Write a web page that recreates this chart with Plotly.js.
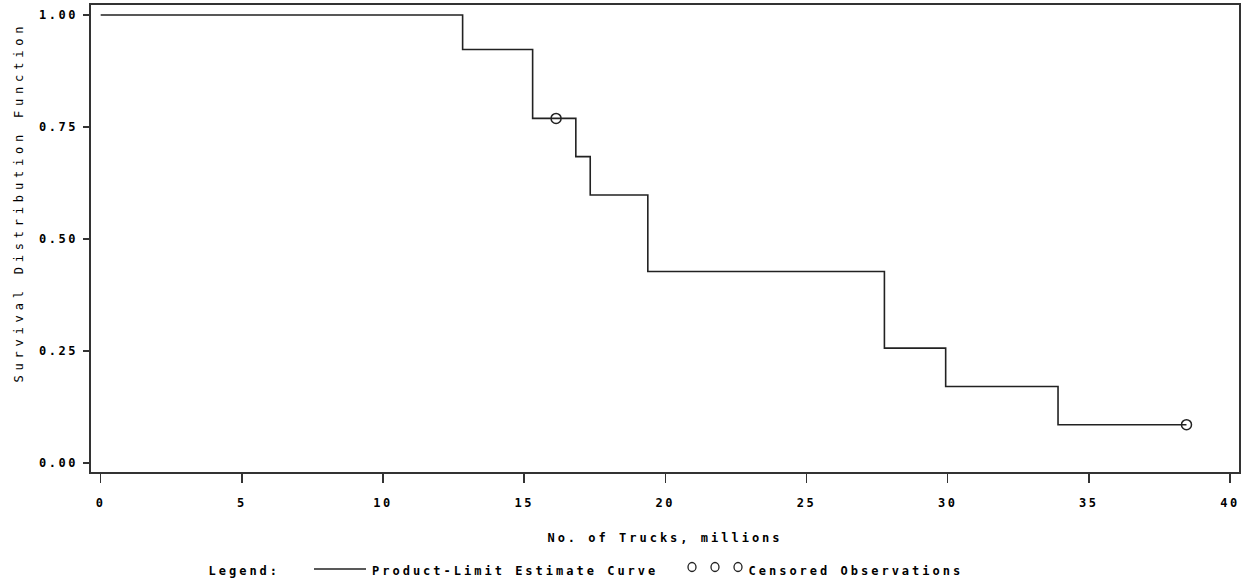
<!DOCTYPE html>
<html>
<head>
<meta charset="utf-8">
<script src="https://cdn.plot.ly/plotly-3.0.1.min.js"></script>
<style>
  html, body { margin: 0; padding: 0; background: #fff; }
  #chart { width: 1252px; height: 586px; }
  .xtick text, .ytick text { letter-spacing: 2.5px; }
  .g-xtitle text { letter-spacing: 3px; }
  g.annotation[data-index="0"] text { letter-spacing: 4.8px; }
  g.annotation[data-index="1"] text,
  g.annotation[data-index="2"] text,
  g.annotation[data-index="3"] text { letter-spacing: 3px; }
</style>
</head>
<body>
<div id="chart"></div>
<script>
// Kaplan-Meier product-limit estimate (step function)
const times = [0, 12.82, 15.30, 16.83, 17.34, 19.38, 27.76, 29.93, 33.91, 38.46];
const survival = [1.0, 0.9231, 0.7692, 0.6838, 0.5983, 0.4274, 0.2564, 0.1709, 0.0855, 0.0855];
// Censored observations
const censoredTimes = [16.13, 38.46];
const censoredSurvival = [0.7692, 0.0855];
// Axis ticks
const xTickVals = [0, 5, 10, 15, 20, 25, 30, 35, 40];
const yTickVals = [0, 0.25, 0.5, 0.75, 1.0];
const yTickText = ['0.00', '0.25', '0.50', '0.75', '1.00'];

const ink = '#222';
const monoBold = {family: 'DejaVu Sans Mono', size: 12, color: '#000', weight: 'bold'};

// plot area in pixels: left 91, right 1239, top 5, bottom 472
const L = 91, R = 1239, T = 5, B = 472;
const px = v => (v - L) / (R - L);
const py = v => (B - v) / (B - T);

const traces = [
  {
    x: times, y: survival, type: 'scatter', mode: 'lines',
    line: {shape: 'hv', color: ink, width: 1.6},
    showlegend: false, hoverinfo: 'x+y'
  },
  {
    x: censoredTimes, y: censoredSurvival, type: 'scatter', mode: 'markers',
    marker: {symbol: 'circle-open', size: 10, color: ink, line: {width: 1.5, color: ink}},
    showlegend: false, hoverinfo: 'x+y'
  }
];

const legendCircles = [692, 715, 738].map(cx => ({
  type: 'circle', xref: 'paper', yref: 'paper',
  x0: px(cx - 4), x1: px(cx + 4), y0: py(567 + 4.5), y1: py(567 - 4.5),
  line: {color: ink, width: 1.3}
}));

const layout = {
  width: 1252, height: 586,
  margin: {l: L, r: 1252 - R, t: T, b: 586 - B},
  paper_bgcolor: '#fff', plot_bgcolor: '#fff',
  showlegend: false,
  xaxis: {
    range: [-0.343, 40.32],
    tickvals: xTickVals, ticktext: xTickVals.map(String),
    ticks: 'outside', ticklen: 9, tickwidth: 1.5, tickcolor: '#333',
    showline: true, linecolor: '#333', linewidth: 1.6, mirror: true,
    showgrid: false, zeroline: false,
    tickfont: monoBold, ticklabelstandoff: 10,
    title: {text: 'No. of Trucks, millions', font: monoBold, standoff: 24}
  },
  yaxis: {
    range: [-0.0201, 1.0223],
    tickvals: yTickVals, ticktext: yTickText,
    ticks: 'outside', ticklen: 6, tickwidth: 1.5, tickcolor: '#333',
    showline: true, linecolor: '#333', linewidth: 1.6, mirror: true,
    showgrid: false, zeroline: false,
    tickfont: monoBold, ticklabelstandoff: 3
  },
  annotations: [
    {text: 'Survival Distribution Function', xref: 'paper', yref: 'paper',
     x: px(18), y: py(202.5), xanchor: 'center', yanchor: 'middle', textangle: -90,
     showarrow: false, font: {family: 'DejaVu Sans Mono', size: 12, color: '#000'}},
    {text: 'Legend:', xref: 'paper', yref: 'paper',
     x: px(244.5), y: py(571), xanchor: 'center', yanchor: 'middle',
     showarrow: false, font: monoBold},
    {text: 'Product-Limit Estimate Curve', xref: 'paper', yref: 'paper',
     x: px(514.5), y: py(571), xanchor: 'center', yanchor: 'middle',
     showarrow: false, font: monoBold},
    {text: 'Censored Observations', xref: 'paper', yref: 'paper',
     x: px(855.5), y: py(571), xanchor: 'center', yanchor: 'middle',
     showarrow: false, font: monoBold}
  ],
  shapes: [
    {type: 'line', xref: 'paper', yref: 'paper',
     x0: px(314), x1: px(366), y0: py(569), y1: py(569),
     line: {color: ink, width: 1.6}}
  ].concat(legendCircles)
};

Plotly.newPlot('chart', traces, layout, {displayModeBar: false, staticPlot: true});
</script>
</body>
</html>
